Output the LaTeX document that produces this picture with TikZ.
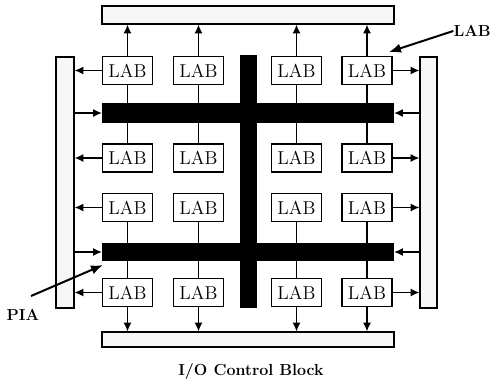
\documentclass[tikz,border=0pt]{standalone}
\usetikzlibrary{arrows.meta}
\begin{document}
\begin{tikzpicture}[x=0.75pt,y=-0.75pt,
  labbox/.style={draw,line width=1.1pt,fill=white,minimum width=37.5pt,minimum height=21pt,inner sep=0pt,font=\fontsize{14}{16}\selectfont},
  iobar/.style={draw,line width=1.1pt,fill=gray!6,inner sep=0pt},
  bus/.style={fill=black,inner sep=0pt},
  conn/.style={line width=0.8pt},
  arr/.style={line width=0.8pt,-{Latex[length=6.5pt,width=6pt]}},
  lbl/.style={font=\bfseries\fontsize{12}{14}\selectfont}]
\useasboundingbox (0,0) rectangle (492,383);
% I/O bars
\node[iobar,minimum width=219pt,minimum height=13.5pt] (top) at (248,15) {};
\node[iobar,minimum width=219pt,minimum height=11.25pt] (bot) at (248,339.5) {};
\node[iobar,minimum width=13.5pt,minimum height=188.25pt] (lbar) at (65,182.5) {};
\node[iobar,minimum width=12.75pt,minimum height=188.25pt] (rbar) at (428.5,182.5) {};
% buses
\node[bus,minimum width=219pt,minimum height=15pt] (ubus) at (248,113) {};
\node[bus,minimum width=219pt,minimum height=13.5pt] (dbus) at (248,252) {};
\node[bus,minimum width=12.75pt,minimum height=189.75pt] (vbus) at (248.5,181.5) {};
% LABs
\foreach \c/\x in {1/127.5,2/198.5,3/296.5,4/367}{
  \foreach \r/\y in {1/70.5,2/158,3/207.5,4/292.5}{
    \node[labbox] (l\r\c) at (\x,\y) {LAB};
  }
}
% vertical connections to buses
\foreach \c in {1,2,3,4}{
  \draw[conn] (l1\c.south) -- (l1\c.south |- ubus.north);
  \draw[conn] (l2\c.north) -- (l2\c.north |- ubus.south);
  \draw[conn] (l3\c.south) -- (l3\c.south |- dbus.north);
  \draw[conn] (l4\c.north) -- (l4\c.north |- dbus.south);
  \draw[arr] (l1\c.north) -- (l1\c.north |- top.south);
  \draw[arr] (l4\c.south) -- (l4\c.south |- bot.north);
}
% side arrows
\foreach \r in {1,2,3,4}{
  \draw[arr] (l\r1.west) -- (l\r1.west -| lbar.east);
  \draw[arr] (l\r4.east) -- (l\r4.east -| rbar.west);
}
\draw[arr] (ubus.west -| lbar.east) -- (ubus.west);
\draw[arr] (dbus.west -| lbar.east) -- (dbus.west);
\draw[arr] (ubus.east -| rbar.west) -- (ubus.east);
\draw[arr] (dbus.east -| rbar.west) -- (dbus.east);
% labels
\node[lbl,anchor=east,inner sep=0pt] (labl) at (491,31) {LAB};
\draw[line width=1.5pt,-{Latex[length=9pt,width=7pt]}] (labl.west) -- (389,52);
\node[lbl,inner sep=0pt] (pial) at (23,315) {PIA};
\coordinate (piat) at (103,265);
\draw[line width=1.5pt,-{Latex[length=9pt,width=7pt]}] (31,296) -- (piat);
\node[lbl,inner sep=0pt] (io) at (251,371) {I/O Control Block};
\end{tikzpicture}
\end{document}
